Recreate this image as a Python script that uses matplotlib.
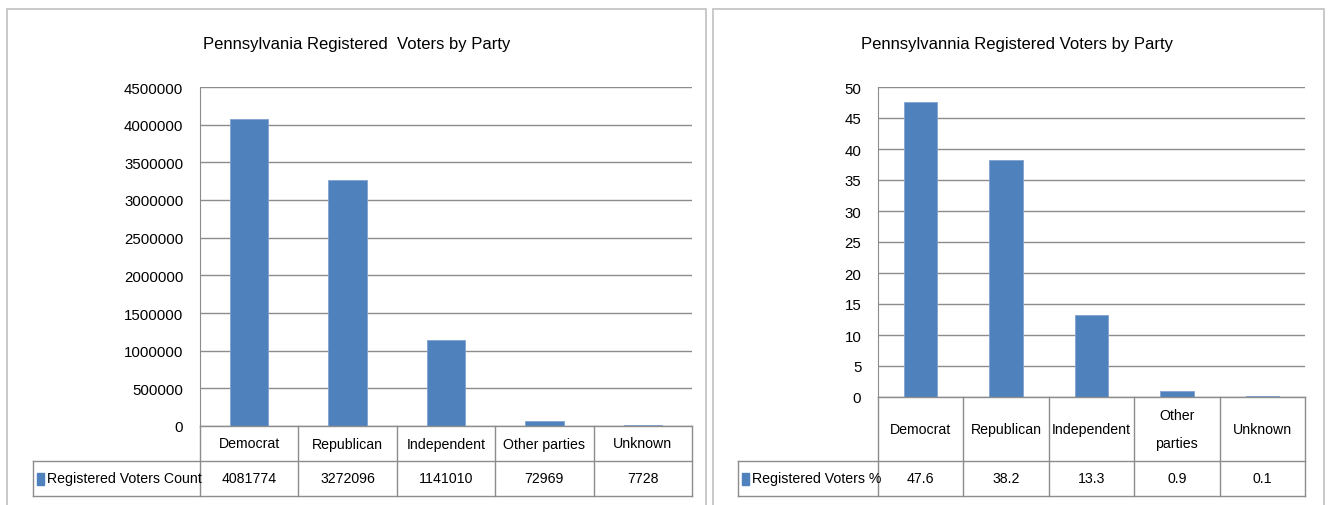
import matplotlib
matplotlib.use("Agg")
import matplotlib.pyplot as plt
from matplotlib.lines import Line2D
from matplotlib.patches import Rectangle

parties = ["Democrat", "Republican", "Independent", "Other parties", "Unknown"]
parties_wrapped = ["Democrat", "Republican", "Independent", "Other\nparties", "Unknown"]
voter_counts = [4081774, 3272096, 1141010, 72969, 7728]
voter_pct = [47.6, 38.2, 13.3, 0.9, 0.1]
count_ticks = [0, 500000, 1000000, 1500000, 2000000, 2500000, 3000000, 3500000, 4000000, 4500000]
pct_ticks = [0, 5, 10, 15, 20, 25, 30, 35, 40, 45, 50]

W, H = 1328, 506
BLUE = "#4f81bd"
GRID = "#8c8c8c"
FS = 10.2

plt.rcParams["font.family"] = ["Liberation Sans", "DejaVu Sans"]

fig = plt.figure(figsize=(W / 100, H / 100), dpi=100)


def fx(px):
    return px / W


def fy(py):
    return 1 - py / H


def hline(x0, x1, y, color=GRID):
    fig.add_artist(Line2D([fx(x0), fx(x1)], [fy(y), fy(y)], color=color, lw=1))


def vline(x, y0, y1, color=GRID):
    fig.add_artist(Line2D([fx(x), fx(x)], [fy(y0), fy(y1)], color=color, lw=1))


def panel(box, table_left, head_bottom, row_bottom, cats, values, ticks, title,
          series_label, value_text, title_x):
    x0, y0, x1, y1 = box
    ax = fig.add_axes([fx(x0), fy(y1), fx(x1) - fx(x0), fy(y0) - fy(y1)])
    n = len(cats)
    ax.bar(range(n), values, width=0.39, color=BLUE, edgecolor="#7fa3d1", lw=0.6, zorder=3)
    ax.set_xlim(-0.5, n - 0.5)
    ax.set_ylim(ticks[0], ticks[-1])
    ax.set_yticks(ticks)
    ax.set_yticklabels([str(t) for t in ticks], fontsize=10.8)
    ax.set_xticks([])
    ax.yaxis.grid(True, color=GRID, lw=1)
    ax.set_axisbelow(True)
    ax.tick_params(axis="y", length=0, pad=12)
    for s in ["top", "right", "bottom"]:
        ax.spines[s].set_visible(False)
    ax.spines["left"].set_color(GRID)

    # data table under the plot
    col_w = (x1 - x0) / n
    hline(x0, x1, y1)
    hline(table_left, x1, head_bottom)
    hline(table_left, x1, row_bottom)
    vline(table_left, head_bottom, row_bottom)
    for i in range(n + 1):
        vline(x0 + i * col_w, y1, row_bottom)
    for i, (c, v) in enumerate(zip(cats, values)):
        cx = x0 + (i + 0.5) * col_w
        fig.text(fx(cx), fy((y1 + head_bottom) / 2), c, ha="center", va="center",
                 fontsize=FS, linespacing=2.2)
        fig.text(fx(cx), fy((head_bottom + row_bottom) / 2), value_text(v),
                 ha="center", va="center", fontsize=FS)
    ym = (head_bottom + row_bottom) / 2
    fig.add_artist(Rectangle((fx(table_left + 4), fy(ym + 6)), fx(7), fy(0) - fy(12),
                             color=BLUE))
    fig.text(fx(table_left + 14), fy(ym), series_label, ha="left", va="center",
             fontsize=FS)
    fig.text(fx(title_x), fy(45), title, ha="center", va="center", fontsize=12)


# chart frames
fig.add_artist(Rectangle((fx(7), fy(520)), fx(699), fy(10) - fy(520),
                         fill=False, ec="#c0c0c0", lw=1.2))
fig.add_artist(Rectangle((fx(713), fy(520)), fx(611), fy(10) - fy(520),
                         fill=False, ec="#c0c0c0", lw=1.2))

panel((200, 88, 692, 427), 33, 462, 497, parties, voter_counts, count_ticks,
      "Pennsylvania Registered  Voters by Party", "Registered Voters Count",
      lambda v: f"{v}", 357)
panel((878, 88, 1305, 398), 738, 462, 497, parties_wrapped, voter_pct, pct_ticks,
      "Pennsylvannia Registered Voters by Party", "Registered Voters %",
      lambda v: f"{v:.1f}", 1017)

fig.savefig("out.png", dpi=100, facecolor="white")
